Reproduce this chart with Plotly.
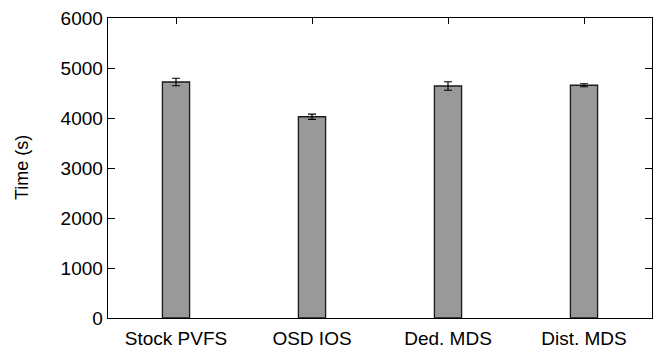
import plotly.graph_objects as go

categories = ["Stock PVFS", "OSD IOS", "Ded. MDS", "Dist. MDS"]
times = [4720, 4025, 4640, 4655]
errors = [75, 53, 85, 30]
y_ticks = [0, 1000, 2000, 3000, 4000, 5000, 6000]

fig = go.Figure()
fig.add_trace(go.Bar(
    x=list(range(len(categories))),
    y=times,
    width=0.2,
    marker=dict(color="#999999", line=dict(color="#1a1a1a", width=1.3)),
    error_y=dict(type="data", array=errors, visible=True,
                 color="black", thickness=1.2, width=4),
    hoverinfo="skip",
))

font = dict(family="Liberation Sans, Arial, Helvetica, sans-serif", size=19, color="black")
L, R, T, B = 108, 4, 18, 34
fig.update_layout(
    width=656, height=352,
    margin=dict(l=L, r=R, t=T, b=B, autoexpand=False),
    paper_bgcolor="white", plot_bgcolor="white",
    showlegend=False,
    font=font,
    xaxis=dict(
        range=[-0.5, 3.5],
        tickmode="array",
        tickvals=list(range(len(categories))),
        ticktext=categories,
        ticks="inside", ticklen=6, tickcolor="black", tickwidth=1,
        showline=True, linecolor="black", linewidth=1.3, mirror="ticks",
        showgrid=False, zeroline=False,
        layer="below traces",
        automargin=False,
        ticklabelstandoff=3,
        tickfont=font,
    ),
    yaxis=dict(
        range=[0, 6000],
        tickmode="array",
        tickvals=y_ticks,
        ticktext=[str(v) for v in y_ticks],
        ticks="inside", ticklen=7, tickcolor="black", tickwidth=1,
        showline=True, linecolor="black", linewidth=1.3, mirror="ticks",
        showgrid=False, zeroline=False,
        automargin=False,
        tickfont=font,
    ),
    annotations=[dict(
        text="Time (s)", textangle=-90, showarrow=False,
        xref="paper", yref="paper",
        x=(22 - L) / (656 - L - R), y=0.5,
        xanchor="center", yanchor="middle",
        font=dict(family=font["family"], size=18, color="black"),
    )],
)

fig.write_html(
    "out.html",
    config={"displayModeBar": False, "staticPlot": True},
    post_script="document.body.style.margin='0px';document.body.style.overflow='hidden';",
)
